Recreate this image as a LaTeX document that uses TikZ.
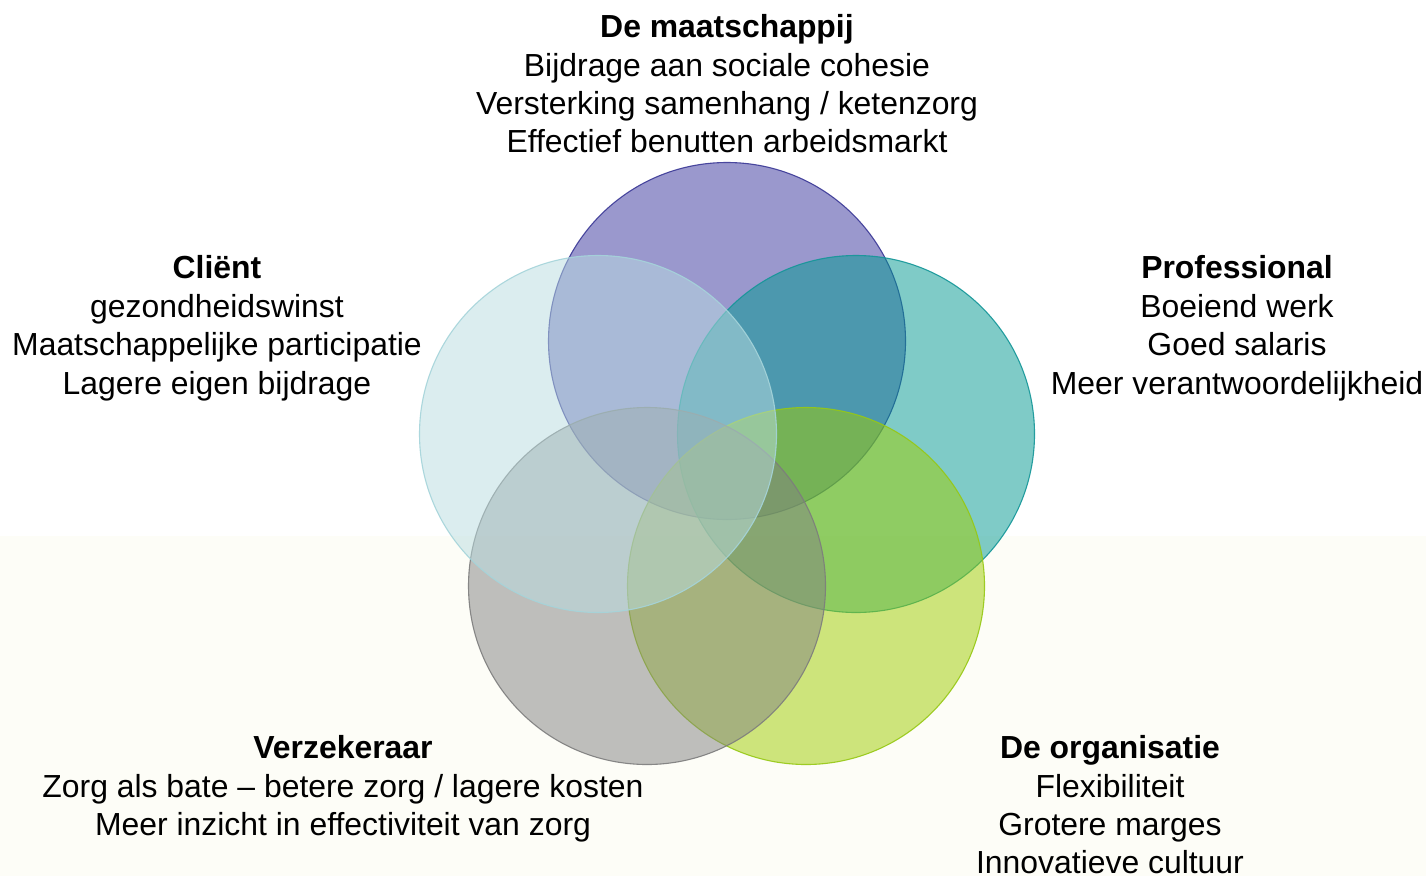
\documentclass[tikz,border=0pt]{standalone}
\usepackage{fontspec}
\setmainfont{Liberation Sans}
\definecolor{cream}{RGB}{253,253,247}
\definecolor{purpleF}{RGB}{55,51,157}
\definecolor{purpleD}{RGB}{58,56,150}
\definecolor{tealF}{RGB}{0,153,145}
\definecolor{tealD}{RGB}{20,150,152}
\definecolor{greenF}{RGB}{159,205,0}
\definecolor{greenD}{RGB}{150,200,20}
\definecolor{greyF}{RGB}{129,129,129}
\definecolor{greyD}{RGB}{125,125,125}
\definecolor{clientF}{RGB}{185,221,225}
\definecolor{clientD}{RGB}{165,212,218}
\tikzset{
  venn/.style={fill opacity=0.5, draw opacity=0.9, line width=1.1pt},
  lbl/.style={anchor=base, inner sep=0pt, font=\fontsize{31.9}{38.5}\selectfont},
  head/.style={lbl, font=\fontsize{31.9}{38.5}\selectfont\bfseries},
}
\begin{document}
\begin{tikzpicture}[x=1pt,y=-1pt]
\useasboundingbox (0,0) rectangle (1426,876);
\fill[white] (0,0) rectangle (1426,876);
\fill[cream] (0,536) rectangle (1426,876);

\coordinate (cM) at (727,341);
\coordinate (cP) at (856,434);
\coordinate (cO) at (806,586);
\coordinate (cV) at (647,586);
\coordinate (cC) at (598,434);

\filldraw[venn, fill=purpleF, draw=purpleD] (cM) circle[radius=178.5pt];
\filldraw[venn, fill=tealF, draw=tealD] (cP) circle[radius=178.5pt];
\filldraw[venn, fill=greenF, draw=greenD] (cO) circle[radius=178.5pt];
\filldraw[venn, fill=greyF, draw=greyD] (cV) circle[radius=178.5pt];
\filldraw[venn, fill=clientF, draw=clientD] (cC) circle[radius=178.5pt];

% De maatschappij
\node[head] (m0) at (727,37) {De maatschappij};
\node[lbl] (m1) at (727,76) {Bijdrage aan sociale cohesie};
\node[lbl] (m2) at (727,114) {Versterking samenhang / ketenzorg};
\node[lbl] (m3) at (727,152) {Effectief benutten arbeidsmarkt};

% Client
\node[head] (c0) at (217,278) {Cliënt};
\node[lbl] (c1) at (217,317) {gezondheidswinst};
\node[lbl] (c2) at (217,355) {Maatschappelijke participatie};
\node[lbl] (c3) at (217,394) {Lagere eigen bijdrage};

% Professional
\node[head] (p0) at (1237,278) {Professional};
\node[lbl] (p1) at (1237,317) {Boeiend werk};
\node[lbl] (p2) at (1237,355) {Goed salaris};
\node[lbl] (p3) at (1237,394) {Meer verantwoordelijkheid};

% Verzekeraar
\node[head] (v0) at (343,758) {Verzekeraar};
\node[lbl] (v1) at (343,797) {Zorg als bate -- betere zorg / lagere kosten};
\node[lbl] (v2) at (343,835) {Meer inzicht in effectiviteit van zorg};

% De organisatie
\node[head] (o0) at (1110,758) {De organisatie};
\node[lbl] (o1) at (1110,797) {Flexibiliteit};
\node[lbl] (o2) at (1110,835) {Grotere marges};
\node[lbl] (o3) at (1110,873) {Innovatieve cultuur};
\end{tikzpicture}
\end{document}
